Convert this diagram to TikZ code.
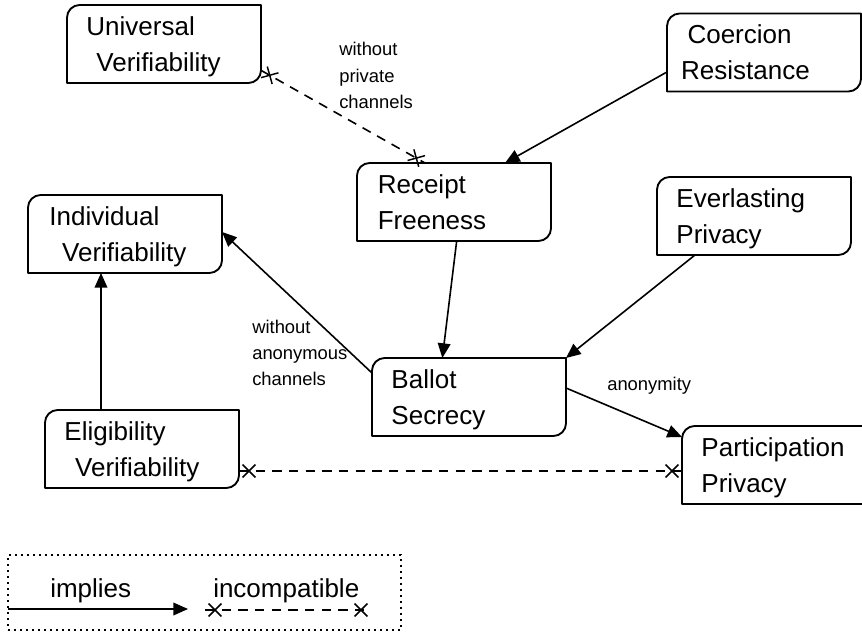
\documentclass[tikz,border=0pt]{standalone}
\usepackage{fontspec}
\setmainfont{Liberation Sans}
\usetikzlibrary{arrows.meta,decorations.markings}

\newcommand\boxfont{\fontsize{19.5pt}{27pt}\selectfont}
\newcommand\notefont{\fontsize{13.8pt}{19.7pt}\selectfont}
\newcommand\boxrad{9.5pt}
% outline with rounded top-left and bottom-right corners only
\newcommand\notchbox[1]{%
  \draw[boxline] (#1.south west) -- ([yshift=-\boxrad]#1.north west)
    arc[start angle=180,end angle=90,radius=\boxrad] -- (#1.north east)
    -- ([yshift=\boxrad]#1.south east)
    arc[start angle=0,end angle=-90,radius=\boxrad] -- cycle;}
% cross drawn near each end of an incompatibility line
\newcommand\xcross{\draw[solid,line width=1.1pt] (-4.8pt,-4.8pt) -- (4.8pt,4.8pt) (-4.8pt,4.8pt) -- (4.8pt,-4.8pt);}

\begin{document}
\begin{tikzpicture}[x=0.75pt,y=-0.75pt,
  prop/.style={minimum width=145.5pt, minimum height=58.5pt,
    inner xsep=14.6pt, inner ysep=0pt, outer sep=0pt,
    text width=116.3pt, align=left, font=\boxfont,
    text height=14pt, text depth=26.9pt},
  boxline/.style={line width=1.4pt, line join=round},
  implies/.style={line width=1.2pt, -{Triangle[length=11pt,width=9.5pt]}},
  incompat/.style={line width=1.2pt, dash pattern=on 7pt off 5.5pt,
    postaction={decorate, decoration={markings,
      mark=at position 7.5pt with {\xcross},
      mark=at position -7.5pt with {\xcross}}}},
  note/.style={font=\notefont, align=left, text width=90pt,
    inner sep=0pt, anchor=base west},
  legtext/.style={font=\boxfont, inner sep=0pt, anchor=base west},
]
\useasboundingbox (0,0) rectangle (862,634);
\clip (0,0) rectangle (862,634);

% properties
\node[prop] (uv) at (164,44)  {Universal\\\hspace{7.5pt}Verifiability};
\node[prop] (cr) at (764,52.5) {\hspace{0.8pt}Coercion\\\hspace{-4pt}Resistance};
\node[prop] (iv) at (125,234) {\hspace{1.5pt}Individual\\\hspace{11pt}Verifiability};
\node[prop] (ep) at (754,216) {Everlasting\\Privacy};
\node[prop] (rf) at (454,202) {\hspace{1pt}Receipt\\\hspace{1pt}Freeness};
\node[prop] (bs) at (469,397) {Ballot\\Secrecy};
\node[prop] (ev) at (142,449) {Eligibility\\\hspace{8pt}Verifiability};
\node[prop] (pp) at (779,465) {Participation\\Privacy};
\foreach \n in {uv,cr,iv,ep,rf,bs,ev,pp} {\notchbox{\n}}

% implications
\draw[implies] ([yshift=-14.6pt]cr.west) -- ([xshift=-34.5pt]rf.north east);
\draw[implies] ([xshift=2pt]rf.south) -- ([xshift=-20pt]bs.north);
\draw[implies] ([xshift=28.5pt]ep.south west) -- (bs.north east);
\draw[implies] ([yshift=18pt]bs.west) -- ([yshift=1.5pt]iv.east);
\draw[implies] ([xshift=42pt]ev.north west) -- ([xshift=54.75pt]iv.south west);
\draw[implies] ([yshift=6.75pt]bs.east) -- ([yshift=-8.25pt]pp.north west);

% incompatibilities
\draw[incompat] ([yshift=9.5pt]uv.south east) -- ([xshift=51pt]rf.north west);
\draw[incompat] ([yshift=-16.5pt]ev.east) -- ([yshift=-4.5pt]pp.west);

% edge notes
\node[note] (n1) at (339,56)  {without\\private\\channels};
\node[note] (n2) at (252,333) {without\\anonymous\\channels};
\node[note] (n3) at (607,390) {anonymity};

% legend
\node[draw, line width=1.3pt, dash pattern=on 1.4pt off 3.1pt,
  minimum width=294.75pt, minimum height=56.25pt, outer sep=0pt,
  anchor=north west] (legend) at (8,555) {};
\coordinate (impA) at (8,609);
\coordinate (impB) at (188,609);
\coordinate (incA) at (205,610);
\coordinate (incB) at (371,610);
\draw[implies] (impA) -- (impB);
\draw[incompat] (incA) -- (incB);
\node[legtext] (limp) at (50,597) {implies};
\node[legtext] (linc) at (213,597) {incompatible};
\end{tikzpicture}
\end{document}
